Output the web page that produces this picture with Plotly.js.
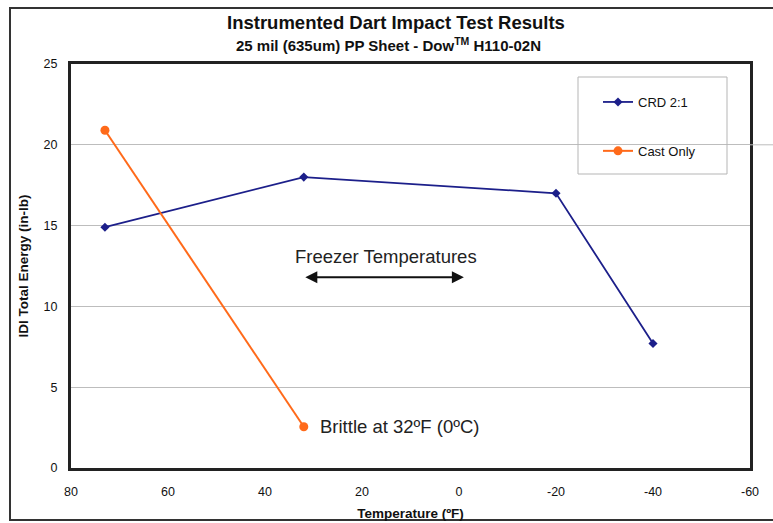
<!DOCTYPE html>
<html>
<head>
<meta charset="utf-8">
<script src="https://cdn.plot.ly/plotly-3.0.1.min.js"></script>
<style>html,body{margin:0;padding:0;background:#fff;}#chart{width:773px;height:523px;}</style>
</head>
<body>
<div id="chart"></div>
<script>
// Data
const crdTemps = [73, 32, -20, -40];
const crdEnergy = [14.9, 18.0, 17.0, 7.7];
const castTemps = [73, 32];
const castEnergy = [20.9, 2.55];
const xTicks = [80, 60, 40, 20, 0, -20, -40, -60];
const yTicks = [0, 5, 10, 15, 20, 25];
const chartTitle = 'Instrumented Dart Impact Test Results';
const chartSubtitle = '25 mil (635um) PP Sheet - Dow<sup style="font-size:9px">TM</sup> H110-02N';

const FONT = '"Liberation Sans", Arial, Helvetica, sans-serif';

const traces = [
  {
    x: crdTemps, y: crdEnergy, name: 'CRD 2:1', type: 'scatter', mode: 'lines+markers',
    legendgroup: 'a',
    line: {color: '#1c1f8a', width: 1.8},
    marker: {symbol: 'diamond', size: 7, color: '#1c1f8a'}
  },
  {
    x: castTemps, y: castEnergy, name: 'Cast Only', type: 'scatter', mode: 'lines+markers',
    legendgroup: 'b',
    line: {color: '#ff6a1a', width: 2},
    marker: {symbol: 'circle', size: 9, color: '#ff6a1a'}
  }
];

const L = 71, R = 750, T = 64, B = 468, W = 773, H = 523;
const px = v => (v - L) / (R - L);
const py = v => (B - v) / (B - T);

const layout = {
  width: W, height: H,
  margin: {l: L, r: W - R, t: T, b: H - B, pad: 0},
  paper_bgcolor: '#ffffff', plot_bgcolor: '#ffffff',
  font: {family: FONT, color: '#111'},
  showlegend: true,
  xaxis: {
    range: [80, -60], tickvals: xTicks, ticktext: xTicks.map(String),
    showgrid: false, zeroline: false,
    showline: true, mirror: true, linecolor: '#222', linewidth: 3,
    ticks: '', ticklabelstandoff: 10,
    tickfont: {family: FONT, size: 12.5, color: '#111'},
    title: {text: '<b>Temperature (ºF)</b>', standoff: 11, font: {family: FONT, size: 13.5, color: '#111'}}
  },
  yaxis: {
    range: [0, 25], tickvals: yTicks, ticktext: yTicks.map(String),
    showgrid: true, gridcolor: '#bdbdbd', gridwidth: 1, zeroline: false,
    showline: true, mirror: true, linecolor: '#222', linewidth: 3,
    ticks: '', ticklabelstandoff: 8,
    tickfont: {family: FONT, size: 12.5, color: '#111'},
    title: {text: '<b>IDI Total Energy (in-lb)</b>', standoff: 12, font: {family: FONT, size: 13.5, color: '#111'}}
  },
  legend: {
    x: px(598), xanchor: 'left', y: py(87), yanchor: 'top',
    bgcolor: 'rgba(0,0,0,0)', borderwidth: 0,
    traceorder: 'grouped', tracegroupgap: 29,
    font: {family: FONT, size: 13, color: '#111'}
  },
  shapes: [
    // outer frame
    {type: 'rect', xref: 'paper', yref: 'paper', x0: px(10), x1: px(790), y0: py(520), y1: py(8),
     line: {color: '#333', width: 2}, layer: 'below'},
    // legend box
    {type: 'rect', xref: 'paper', yref: 'paper', x0: px(578), x1: px(727), y0: py(174), y1: py(77),
     line: {color: '#b5b5b5', width: 1}, fillcolor: 'rgba(255,255,255,0)'},
    // gridline stub beyond plot border at y=20
    {type: 'line', xref: 'paper', yref: 'y', x0: 1, x1: px(775), y0: 20, y1: 20,
     line: {color: '#bdbdbd', width: 1}}
  ],
  annotations: [
    {x: px(396), y: py(23), xref: 'paper', yref: 'paper', text: '<b>' + chartTitle + '</b>',
     showarrow: false, xanchor: 'center', yanchor: 'middle',
     font: {family: FONT, size: 18.5, color: '#111'}},
    {x: px(388), y: py(45), xref: 'paper', yref: 'paper', text: '<b>' + chartSubtitle + '</b>',
     showarrow: false, xanchor: 'center', yanchor: 'middle',
     font: {family: FONT, size: 15, color: '#111'}},
    {x: 15.1, y: 13.1, xref: 'x', yref: 'y', text: 'Freezer Temperatures', showarrow: false,
     font: {family: FONT, size: 18.5, color: '#222'}},
    {x: -1, y: 11.8, ax: 32, ay: 11.8, xref: 'x', yref: 'y', axref: 'x', ayref: 'y', text: '',
     showarrow: true, arrowhead: 2, startarrowhead: 2, arrowside: 'end+start',
     arrowsize: 1.2, arrowwidth: 2, arrowcolor: '#111'},
    {x: 29.1, y: 2.55, xref: 'x', yref: 'y', text: 'Brittle at 32ºF (0ºC)', showarrow: false,
     xanchor: 'left', yanchor: 'middle', font: {family: FONT, size: 18.5, color: '#222'}}
  ]
};

Plotly.newPlot('chart', traces, layout, {displayModeBar: false, staticPlot: true});
</script>
</body>
</html>
